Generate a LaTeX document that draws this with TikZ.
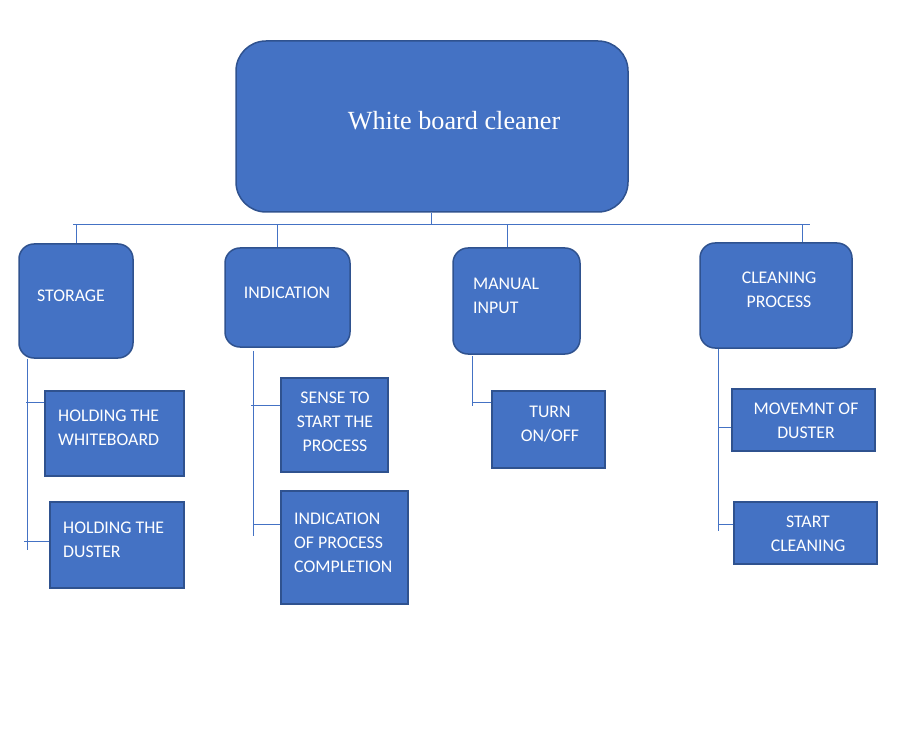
\documentclass[tikz,border=0pt]{standalone}
\usepackage{fontspec}
\setmainfont{Carlito}
\newfontfamily\titlefont{Liberation Serif}
\usepackage{tikz}
\usetikzlibrary{positioning}
\definecolor{boxfill}{HTML}{4472C4}
\definecolor{boxline}{HTML}{2F528F}

\begin{document}
\begin{tikzpicture}[x=1pt,y=-1pt,
      group/.style={draw=boxline,fill=boxfill,line width=1.5pt,rounded corners=15pt,inner sep=0pt},
      item/.style={draw=boxline,fill=boxfill,line width=1.5pt,inner sep=0pt},
      lbl/.style={text=white,inner sep=0pt,font=\fontsize{17.8}{24}\selectfont},
      link/.style={draw=boxfill,line width=0.9pt}]
      \useasboundingbox (0,0) rectangle (915,735);
      % top box
      \node[group, rounded corners=30pt, minimum width=392pt, minimum height=171pt] (top) at (432,126.5) {};
      \node[text=white, font=\titlefont\fontsize{26.2}{30}\selectfont] (top-text) at (454,121) {White board cleaner};
      % second row
      \node[group, minimum width=114pt, minimum height=114pt] (storage) at (76,301) {};
      \node[group, minimum width=125pt, minimum height=99pt] (indication) at (287.5,297.5) {};
      \node[group, minimum width=127pt, minimum height=106pt] (manual) at (516.5,301) {};
      \node[group, minimum width=152pt, minimum height=105pt] (cleaning) at (776,295.5) {};
      \node[lbl] (storage-text) at (71,296) {STORAGE};
      \node[lbl] (indication-text) at (287,293) {INDICATION};
      \node[lbl, anchor=west, align=left] (manual-text) at (473,295.5) {MANUAL\\INPUT};
      \node[lbl, align=center] (cleaning-text) at (779,290) {CLEANING\\PROCESS};
      % leaves
      \node[item, minimum width=139pt, minimum height=85pt] (holdwb) at (114.5,433.5) {};
      \node[item, minimum width=134pt, minimum height=86pt] (holdduster) at (117,545) {};
      \node[item, minimum width=107pt, minimum height=94pt] (sense) at (334.5,425) {};
      \node[item, minimum width=127pt, minimum height=113pt] (complete) at (344.5,547.5) {};
      \node[item, minimum width=113pt, minimum height=77pt] (turn) at (548.5,429.5) {};
      \node[item, minimum width=143pt, minimum height=62pt] (movemnt) at (803.5,420) {};
      \node[item, minimum width=143pt, minimum height=62pt] (startclean) at (805.5,533) {};
      \node[lbl, anchor=west, align=left] (holdwb-text) at (58,428) {HOLDING THE\\WHITEBOARD};
      \node[lbl, anchor=west, align=left] (holdduster-text) at (63,539.5) {HOLDING THE\\DUSTER};
      \node[lbl, align=center] (sense-text) at (335,421.5) {SENSE TO\\START THE\\PROCESS};
      \node[lbl, anchor=west, align=left] (complete-text) at (294,543) {INDICATION\\OF PROCESS\\COMPLETION};
      \node[lbl, align=center] (turn-text) at (550,424) {TURN\\ON/OFF};
      \node[lbl, align=center] (movemnt-text) at (806,421) {MOVEMNT OF\\DUSTER};
      \node[lbl, align=center] (startclean-text) at (808,534) {START\\CLEANING};
      % bus
      \coordinate (bus-l) at (73,224);
      \coordinate (bus-r) at (810,224);
      \draw[link] (bus-l) -- (bus-r);
      \draw[link] ([xshift=-1pt]top.south) -- ([xshift=-1pt]top.south |- bus-l);
      \draw[link] (storage.north) -- (storage.north |- bus-l);
      \draw[link] ([xshift=-10.5pt]indication.north) -- ([xshift=-10.5pt]indication.north |- bus-l);
      \draw[link] ([xshift=-9.5pt]manual.north) -- ([xshift=-9.5pt]manual.north |- bus-l);
      \draw[link] ([xshift=26pt]cleaning.north) -- ([xshift=26pt]cleaning.north |- bus-l);
      % branches
      \draw[link] ([xshift=9pt]storage.south west) -- ++(0,191);
      \draw[link] ([yshift=-12pt]holdwb.north west) -- ++(-18,0);
      \draw[link] ([yshift=-40pt]holdduster.north west) -- ++(-25,0);
      \draw[link] ([xshift=29pt,yshift=-3pt]indication.south west) -- ++(0,185);
      \draw[link] ([yshift=-28pt]sense.north west) -- ++(-29,0);
      \draw[link] ([yshift=-34pt]complete.north west) -- ++(-27,0);
      \draw[link] ([xshift=20pt,yshift=-1pt]manual.south west) -- ++(0,50);
      \draw[link] ([yshift=-12pt]turn.north west) -- ++(-19,0);
      \draw[link] ([xshift=19pt]cleaning.south west) -- ++(0,182);
      \draw[link] ([yshift=-39pt]movemnt.north west) -- ++(-13,0);
      \draw[link] ([yshift=-23pt]startclean.north west) -- ++(-15,0);
    \end{tikzpicture}
\end{document}
